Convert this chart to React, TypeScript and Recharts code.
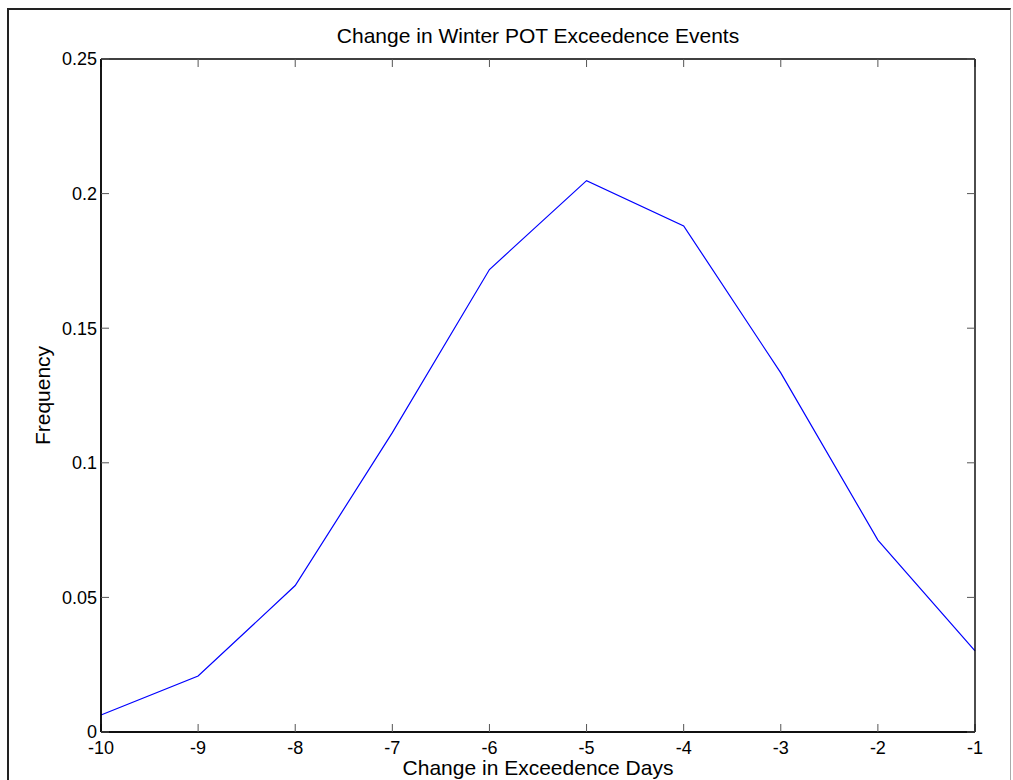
import { Label, Line, LineChart, XAxis, YAxis } from "recharts";

const changeDays = [-10, -9, -8, -7, -6, -5, -4, -3, -2, -1];
const frequency = [0.0063, 0.0208, 0.0544, 0.1112, 0.1718, 0.2048, 0.1880, 0.1334, 0.0713, 0.0301];
const yTicks = [0, 0.05, 0.1, 0.15, 0.2, 0.25];

const data = changeDays.map((d, i) => ({ day: d, freq: frequency[i] }));

const font = "'Liberation Sans', Arial, sans-serif";
const tickStyle = { fontSize: 18, fill: "#000", fontFamily: font } as const;
const axisLine = { stroke: "#000", strokeWidth: 1.4 };
const tickLine = { stroke: "#555", strokeWidth: 1 };
const blank = () => "";

// inward tick marks on all four sides, drawn by mirrored axes
function tickX(id: string, orientation: "top" | "bottom") {
  return (
    <XAxis
      xAxisId={id}
      orientation={orientation}
      mirror
      dataKey="day"
      type="number"
      domain={[-10, -1]}
      ticks={changeDays}
      height={20}
      tickSize={8}
      tickFormatter={blank}
      axisLine={axisLine}
      tickLine={tickLine}
    />
  );
}

function tickY(id: string, orientation: "left" | "right") {
  return (
    <YAxis
      yAxisId={id}
      orientation={orientation}
      mirror
      type="number"
      domain={[0, 0.25]}
      ticks={yTicks}
      width={20}
      tickSize={8}
      tickFormatter={blank}
      axisLine={axisLine}
      tickLine={tickLine}
    />
  );
}

export default function App() {
  return (
    <div style={{ position: "absolute", left: 0, top: 0, width: 1013, height: 780, overflow: "hidden", background: "#fff" }}>
      <div
        style={{
          position: "absolute",
          left: 7,
          top: 8,
          width: 1001,
          height: 820,
          borderLeft: "2px solid #222",
          borderTop: "2px solid #222",
          borderRight: "1px solid #aaa",
        }}
      />
      <div
        style={{
          position: "absolute",
          left: 101,
          width: 874,
          top: 24,
          textAlign: "center",
          fontFamily: font,
          fontSize: 21,
          lineHeight: "24px",
          color: "#000",
        }}
      >
        Change in Winter POT Exceedence Events
      </div>
      <div style={{ position: "absolute", left: 0, top: 0 }}>
        <LineChart width={1013} height={780} data={data} margin={{ top: 59, right: 38, left: 41, bottom: 0 }}>
          <XAxis
            xAxisId="bottom"
            dataKey="day"
            type="number"
            domain={[-10, -1]}
            ticks={changeDays}
            height={48}
            tick={tickStyle}
            tickSize={0}
            tickMargin={9}
            axisLine={axisLine}
            tickLine={false}
          >
            <Label
              value="Change in Exceedence Days"
              position="insideBottom"
              offset={5}
              style={{ fontSize: 21, fill: "#000", fontFamily: font }}
            />
          </XAxis>
          {tickX("bottomTicks", "bottom")}
          {tickX("top", "top")}
          <YAxis
            yAxisId="left"
            type="number"
            domain={[0, 0.25]}
            ticks={yTicks}
            width={60}
            tick={tickStyle}
            tickSize={0}
            tickMargin={4}
            tickFormatter={(v) => String(v)}
            axisLine={axisLine}
            tickLine={false}
          >
            <Label
              value="Frequency"
              angle={-90}
              position="insideLeft"
              offset={2}
              style={{ fontSize: 21, fill: "#000", fontFamily: font, textAnchor: "middle" }}
            />
          </YAxis>
          {tickY("leftTicks", "left")}
          {tickY("right", "right")}
          <Line
            xAxisId="bottom"
            yAxisId="left"
            type="linear"
            dataKey="freq"
            stroke="#0000ff"
            strokeWidth={1.2}
            dot={false}
            isAnimationActive={false}
          />
          <Line
            xAxisId="top"
            yAxisId="right"
            dataKey="freq"
            stroke="none"
            dot={false}
            legendType="none"
            isAnimationActive={false}
          />
          <Line
            xAxisId="bottomTicks"
            yAxisId="leftTicks"
            dataKey="freq"
            stroke="none"
            dot={false}
            legendType="none"
            isAnimationActive={false}
          />
        </LineChart>
      </div>
    </div>
  );
}
